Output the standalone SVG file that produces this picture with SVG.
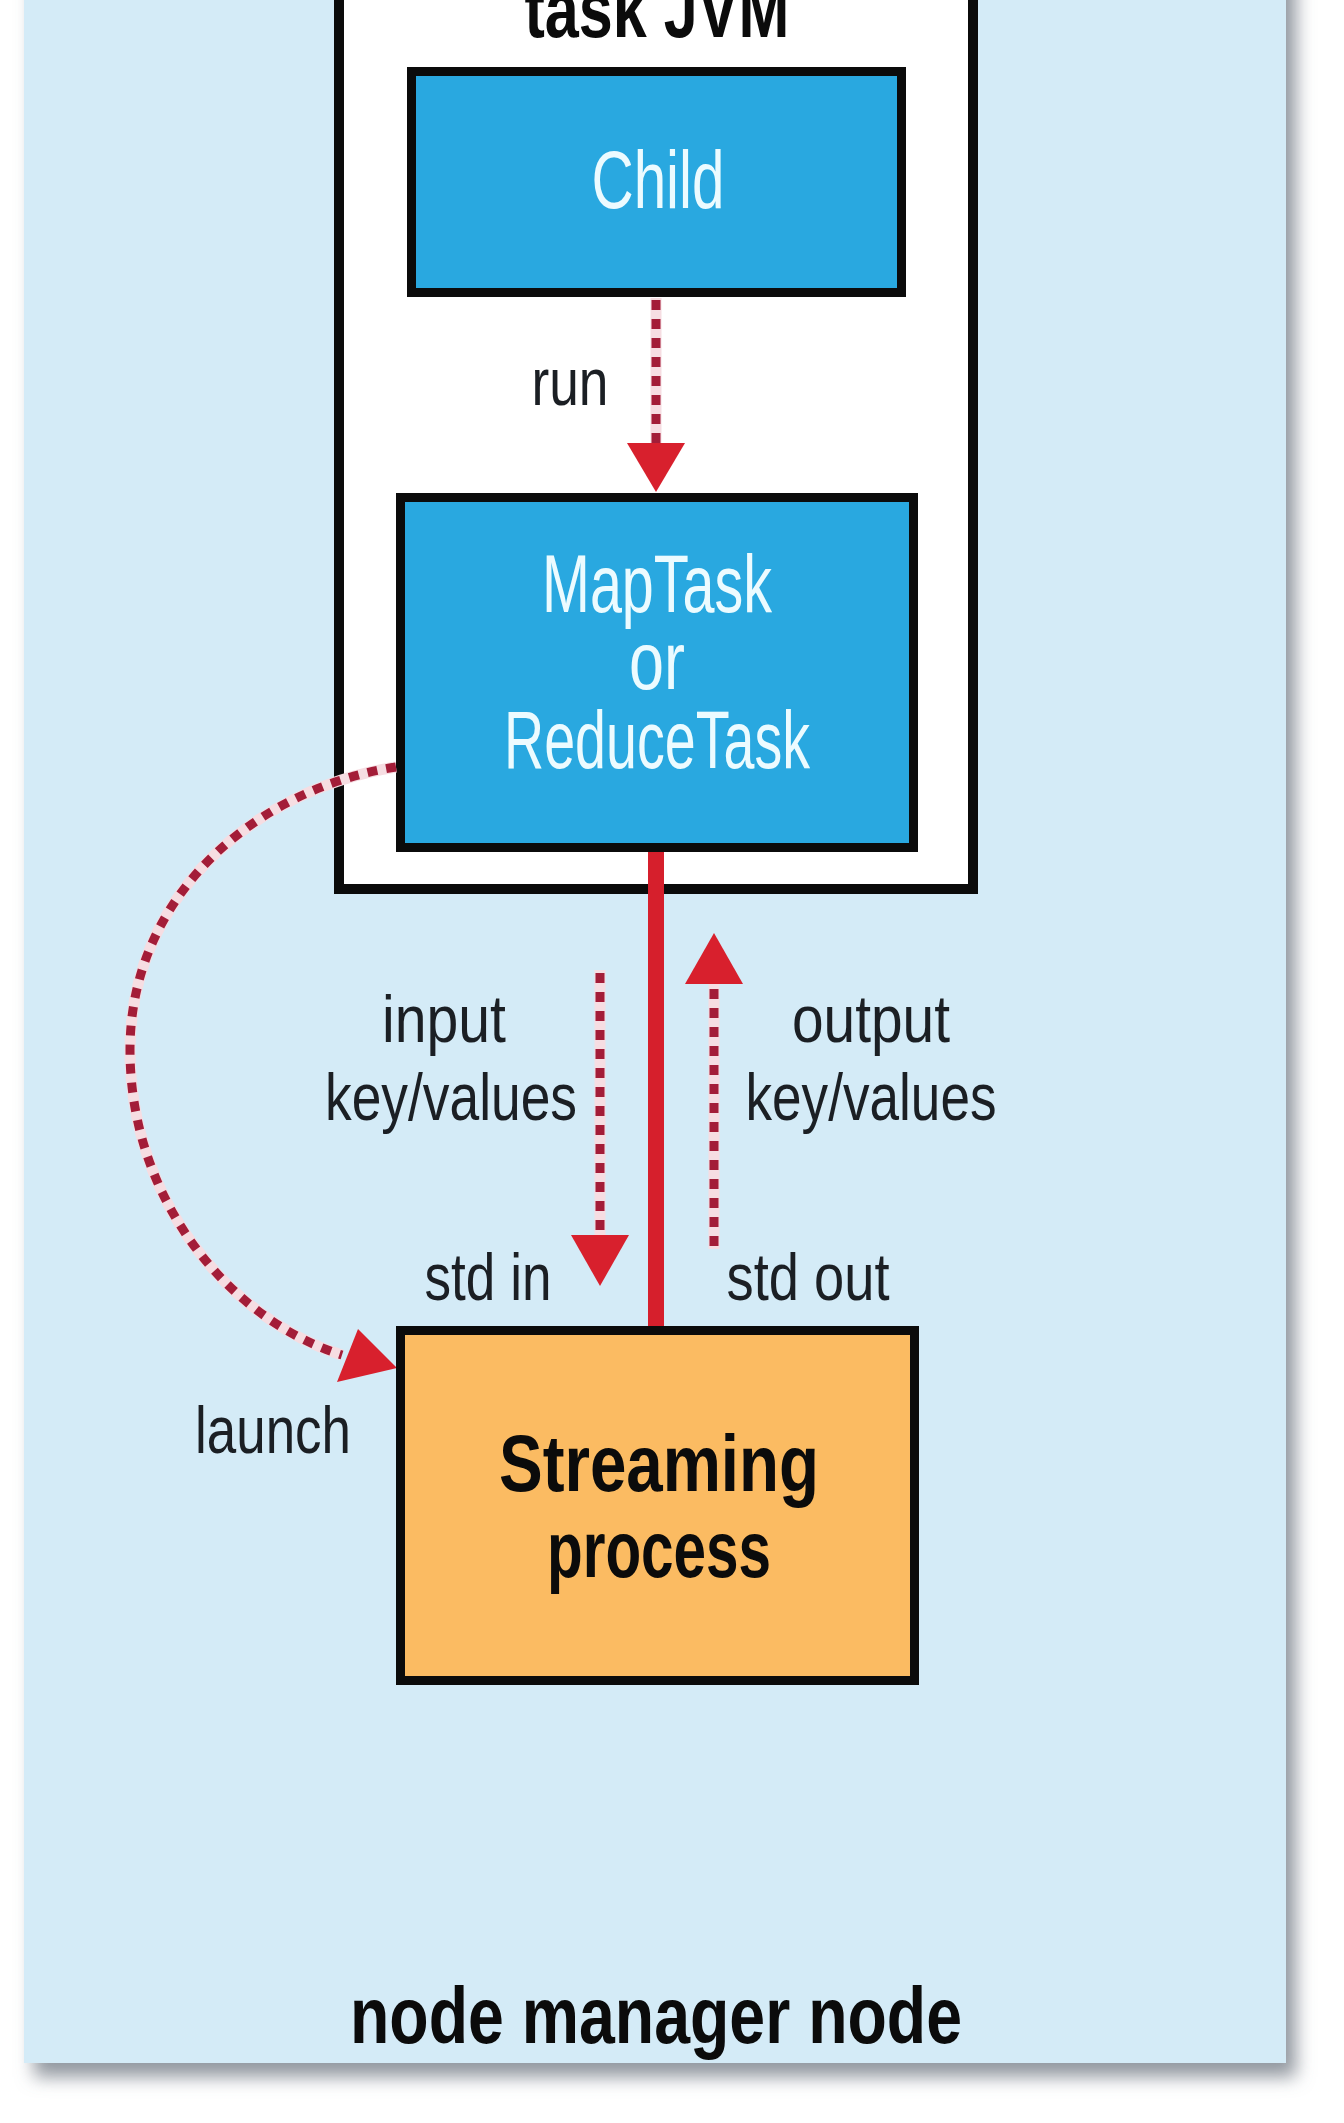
<svg xmlns="http://www.w3.org/2000/svg" width="1344" height="2123" viewBox="0 0 1344 2123">
<style>
.box{stroke:#0b0b0b;stroke-width:9}
.blue{fill:#29a8e0}
.orange{fill:#fbbb62}
.wt{font-family:"Liberation Sans",Arial,sans-serif;font-size:82px;fill:#ecfbff;text-anchor:middle}
.lbl{font-family:"Liberation Sans",Arial,sans-serif;font-size:66px;fill:#1b1f24;text-anchor:middle}
.bold{font-family:"Liberation Sans",Arial,sans-serif;font-weight:bold;font-size:80px;fill:#0b0b0b;text-anchor:middle}
.halo{fill:none;stroke:#f6dde2;stroke-width:11}
.dots{fill:none;stroke:#a31d38;stroke-width:9;stroke-dasharray:10 9}
.head{fill:#d8202d}
</style>
<defs>
<filter id="sh" x="-5%" y="-5%" width="115%" height="115%">
<feDropShadow dx="10" dy="14" stdDeviation="9" flood-color="#6d7680" flood-opacity="0.75"/>
</filter>
</defs>
<rect width="1344" height="2123" fill="#ffffff"/>
<g id="node-manager-node">
<rect x="24" y="-40" width="1262" height="2103" fill="#d4ebf7" filter="url(#sh)"/>
<text class="bold" x="656" y="2043" textLength="612" lengthAdjust="spacingAndGlyphs">node manager node</text>
</g>
<g id="task-jvm">
<rect x="339" y="-30" width="634" height="919" fill="#ffffff" stroke="#0b0b0b" stroke-width="10"/>
<text class="bold" x="657" y="37" textLength="265" lengthAdjust="spacingAndGlyphs">task JVM</text>
</g>
<g id="child">
<rect class="box blue" x="411.5" y="71.5" width="490" height="221"/>
<text class="wt" x="658" y="208" textLength="133" lengthAdjust="spacingAndGlyphs">Child</text>
</g>
<g id="maptask">
<rect class="box blue" x="400.5" y="497.5" width="513" height="350"/>
<text class="wt" x="657" y="612" textLength="230" lengthAdjust="spacingAndGlyphs">MapTask</text>
<text class="wt" x="657" y="689" textLength="56" lengthAdjust="spacingAndGlyphs">or</text>
<text class="wt" x="657" y="768" textLength="306" lengthAdjust="spacingAndGlyphs">ReduceTask</text>
</g>
<g id="connectors">
<line x1="656" y1="852" x2="656" y2="1328" stroke="#d61f2c" stroke-width="16"/>
<line class="halo" x1="656" y1="298" x2="656" y2="445"/>
<line class="dots" x1="656" y1="300" x2="656" y2="445"/>
<polygon class="head" points="627,443 685,443 656,492"/>
<line class="halo" x1="600" y1="970" x2="600" y2="1237"/>
<line class="dots" x1="600" y1="973" x2="600" y2="1237"/>
<polygon class="head" points="571,1235 629,1235 600,1286"/>
<line class="halo" x1="714" y1="983" x2="714" y2="1249"/>
<line class="dots" x1="714" y1="1246" x2="714" y2="983"/>
<polygon class="head" points="685,984 743,984 714,933"/>
<path class="halo" d="M 396 767 C 250 790, 130 900, 130 1050 C 130 1200, 230 1320, 342 1355"/>
<path class="dots" d="M 396 767 C 250 790, 130 900, 130 1050 C 130 1200, 230 1320, 342 1355"/>
<polygon class="head" points="397,1368 358,1329 337,1382"/>
<text class="lbl" x="570" y="405" textLength="77" lengthAdjust="spacingAndGlyphs">run</text>
<text class="lbl" x="444" y="1042" textLength="124" lengthAdjust="spacingAndGlyphs">input</text>
<text class="lbl" x="451" y="1120" textLength="252" lengthAdjust="spacingAndGlyphs">key/values</text>
<text class="lbl" x="871" y="1042" textLength="158" lengthAdjust="spacingAndGlyphs">output</text>
<text class="lbl" x="871" y="1120" textLength="251" lengthAdjust="spacingAndGlyphs">key/values</text>
<text class="lbl" x="488" y="1300" textLength="127" lengthAdjust="spacingAndGlyphs">std in</text>
<text class="lbl" x="808" y="1300" textLength="163" lengthAdjust="spacingAndGlyphs">std out</text>
<text class="lbl" x="273" y="1453" textLength="156" lengthAdjust="spacingAndGlyphs">launch</text>
</g>
<g id="streaming-process">
<rect class="box orange" x="400.5" y="1330.5" width="514" height="350"/>
<text class="bold" x="659" y="1491" textLength="320" lengthAdjust="spacingAndGlyphs">Streaming</text>
<text class="bold" x="659" y="1577" textLength="224" lengthAdjust="spacingAndGlyphs">process</text>
</g>
</svg>
